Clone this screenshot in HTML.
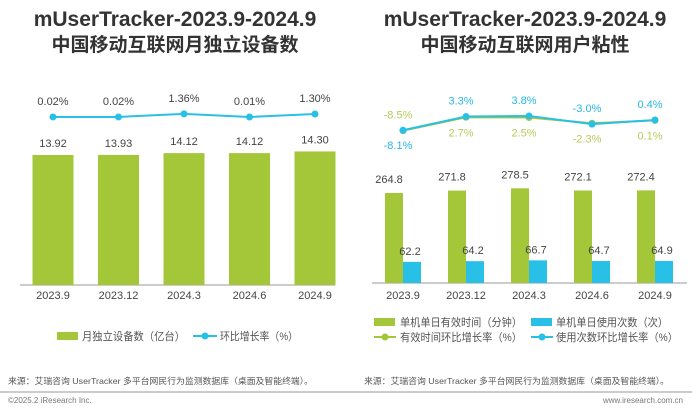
<!DOCTYPE html>
<html><head><meta charset="utf-8"><style>
body{margin:0;background:#fff;width:700px;height:406px;overflow:hidden}
svg text{font-family:"Liberation Sans","Noto Sans CJK SC",sans-serif}
</style></head><body>
<svg width="700" height="406" viewBox="0 0 700 406">
<text x="175" y="26" text-anchor="middle" font-size="21" font-weight="bold" fill="#333">mUserTracker-2023.9-2024.9</text>
<text x="175" y="51" text-anchor="middle" font-size="19" font-weight="bold" fill="#333">中国移动互联网月独立设备数</text>
<text x="525" y="26" text-anchor="middle" font-size="21" font-weight="bold" fill="#333">mUserTracker-2023.9-2024.9</text>
<text x="525" y="51" text-anchor="middle" font-size="19" font-weight="bold" fill="#333">中国移动互联网用户粘性</text>
<g id="left"></g><g id="right"></g>
<g>
<rect x="57" y="332" width="21" height="8" fill="#a4c639"/>
<text x="82" y="340" font-size="11" fill="#555" textLength="103" lengthAdjust="spacingAndGlyphs">月独立设备数（亿台）</text>
<line x1="193" y1="336" x2="217" y2="336" stroke="#29c0e8" stroke-width="2"/><circle cx="205" cy="336" r="3.5" fill="#29c0e8"/>
<text x="220" y="340" font-size="11" fill="#555" textLength="78" lengthAdjust="spacingAndGlyphs">环比增长率（%）</text>
</g>
<g>
<rect x="374" y="318" width="21" height="8" fill="#a4c639"/>
<text x="400" y="326" font-size="11" fill="#555" textLength="122" lengthAdjust="spacingAndGlyphs">单机单日有效时间（分钟）</text>
<rect x="531" y="318" width="21" height="8" fill="#29c0e8"/>
<text x="556" y="326" font-size="11" fill="#555" textLength="112" lengthAdjust="spacingAndGlyphs">单机单日使用次数（次）</text>
<line x1="374" y1="337" x2="396" y2="337" stroke="#a4c639" stroke-width="2"/><circle cx="385" cy="337" r="3.5" fill="#a4c639"/>
<text x="400" y="341" font-size="11" fill="#555" textLength="122" lengthAdjust="spacingAndGlyphs">有效时间环比增长率（%）</text>
<line x1="531" y1="337" x2="553" y2="337" stroke="#29c0e8" stroke-width="2"/><circle cx="542" cy="337" r="3.5" fill="#29c0e8"/>
<text x="556" y="341" font-size="11" fill="#555" textLength="122" lengthAdjust="spacingAndGlyphs">使用次数环比增长率（%）</text>
</g>
<text x="8" y="384" font-size="8.5" fill="#555" textLength="305" lengthAdjust="spacingAndGlyphs">来源：艾瑞咨询 UserTracker 多平台网民行为监测数据库（桌面及智能终端）。</text>
<text x="364" y="384" font-size="8.5" fill="#555" textLength="305" lengthAdjust="spacingAndGlyphs">来源：艾瑞咨询 UserTracker 多平台网民行为监测数据库（桌面及智能终端）。</text>
<line x1="0" y1="392" x2="692" y2="392" stroke="#999" stroke-width="1"/>
<text x="8" y="403" font-size="8" fill="#777">©2025.2 iResearch Inc.</text>
<text x="683" y="403" font-size="8" fill="#777" text-anchor="end">www.iresearch.com.cn</text>
</svg>
<script>
const leftCategories=["2023.9","2023.12","2024.3","2024.6","2024.9"];
const deviceValues=[13.92,13.93,14.12,14.12,14.30];
const deviceGrowth=[0.02,0.02,1.36,0.01,1.30];
const rightCategories=["2023.9","2023.12","2024.3","2024.6","2024.9"];
const timeValues=[264.8,271.8,278.5,272.1,272.4];
const countValues=[62.2,64.2,66.7,64.7,64.9];
const timeGrowth=[-8.5,2.7,2.5,-2.3,0.1];
const countGrowth=[-8.1,3.3,3.8,-3.0,0.4];
const timeGrowthLabels=["-8.5%","2.7%","2.5%","-2.3%","0.1%"];
const countGrowthLabels=["-8.1%","3.3%","3.8%","-3.0%","0.4%"];
const NS="http://www.w3.org/2000/svg";
function mk(p,t,a,txt){const e=document.createElementNS(NS,t);for(const k in a)e.setAttribute(k,a[k]);if(txt!==undefined)e.textContent=txt;p.appendChild(e);return e;}
// left
const L=document.getElementById('left');
const lx=i=>53+i*65.5, lyBar=v=>285-v*9.34, lyLine=v=>117-v*2.3;
mk(L,'line',{x1:20,y1:285,x2:335,y2:285,stroke:'#999'});
let pts=[];
deviceValues.forEach((v,i)=>{
 const r=mk(L,'rect',{x:lx(i)-20.5,y:lyBar(v),width:41,height:285-lyBar(v),fill:'#a4c639'});
 
 
 mk(L,'text',{x:lx(i),y:lyBar(v)-8,'text-anchor':'middle','font-size':11,fill:'#444'},v.toFixed(2));
 const t=mk(L,'text',{x:lx(i),y:299,'text-anchor':'middle','font-size':11,fill:'#444'},leftCategories[i]);
 
 
 pts.push(lx(i)+','+lyLine(deviceGrowth[i]));
});
mk(L,'polyline',{points:pts.join(' '),fill:'none',stroke:'#29c0e8','stroke-width':2});
deviceGrowth.forEach((v,i)=>{
 const c=mk(L,'circle',{cx:lx(i),cy:lyLine(v),r:3.5,fill:'#29c0e8'});
 
 
 mk(L,'text',{x:lx(i),y:lyLine(v)-12,'text-anchor':'middle','font-size':11,fill:'#444'},v.toFixed(2)+'%');
});
// right
const R=document.getElementById('right');
const rx=i=>403+i*63, ryBar=v=>283-v*0.34, ryLine=v=>120.5-v*1.2;
mk(R,'line',{x1:372,y1:283,x2:687,y2:283,stroke:'#999'});
const countAbove=[false,true,true,true,true], timeAbove=[true,false,false,false,false];
timeValues.forEach((v,i)=>{
 const g=mk(R,'rect',{x:rx(i)-18,y:ryBar(v),width:18,height:283-ryBar(v),fill:'#a4c639'});
 
 
 const b=mk(R,'rect',{x:rx(i),y:ryBar(countValues[i]),width:18,height:283-ryBar(countValues[i]),fill:'#29c0e8'});
 
 
 mk(R,'text',{x:rx(i)-14,y:ryBar(v)-10,'text-anchor':'middle','font-size':11,fill:'#444'},v.toFixed(1));
 mk(R,'text',{x:rx(i)+7,y:ryBar(countValues[i])-7,'text-anchor':'middle','font-size':11,fill:'#444'},countValues[i].toFixed(1));
 const t=mk(R,'text',{x:rx(i),y:299,'text-anchor':'middle','font-size':11,fill:'#444'},rightCategories[i]);
 
 
});
const gp=timeGrowth.map((v,i)=>rx(i)+','+ryLine(v)).join(' ');
const bp=countGrowth.map((v,i)=>rx(i)+','+ryLine(v)).join(' ');
mk(R,'polyline',{points:gp,fill:'none',stroke:'#a4c639','stroke-width':2});
mk(R,'polyline',{points:bp,fill:'none',stroke:'#29c0e8','stroke-width':2});
timeGrowth.forEach((v,i)=>{
 const c=mk(R,'circle',{cx:rx(i),cy:ryLine(v),r:3.5,fill:'#a4c639'});
 
 
 mk(R,'text',{x:rx(i)-5,y:timeAbove[i]?ryLine(v)-12:ryLine(v)+19,'text-anchor':'middle','font-size':11,fill:'#b5cc5a'},timeGrowthLabels[i]);
});
countGrowth.forEach((v,i)=>{
 const c=mk(R,'circle',{cx:rx(i),cy:ryLine(v),r:3.5,fill:'#29c0e8'});
 
 
 mk(R,'text',{x:rx(i)-5,y:countAbove[i]?ryLine(v)-12:ryLine(v)+19,'text-anchor':'middle','font-size':11,fill:'#29b6e0'},countGrowthLabels[i]);
});
</script>
</body></html>
